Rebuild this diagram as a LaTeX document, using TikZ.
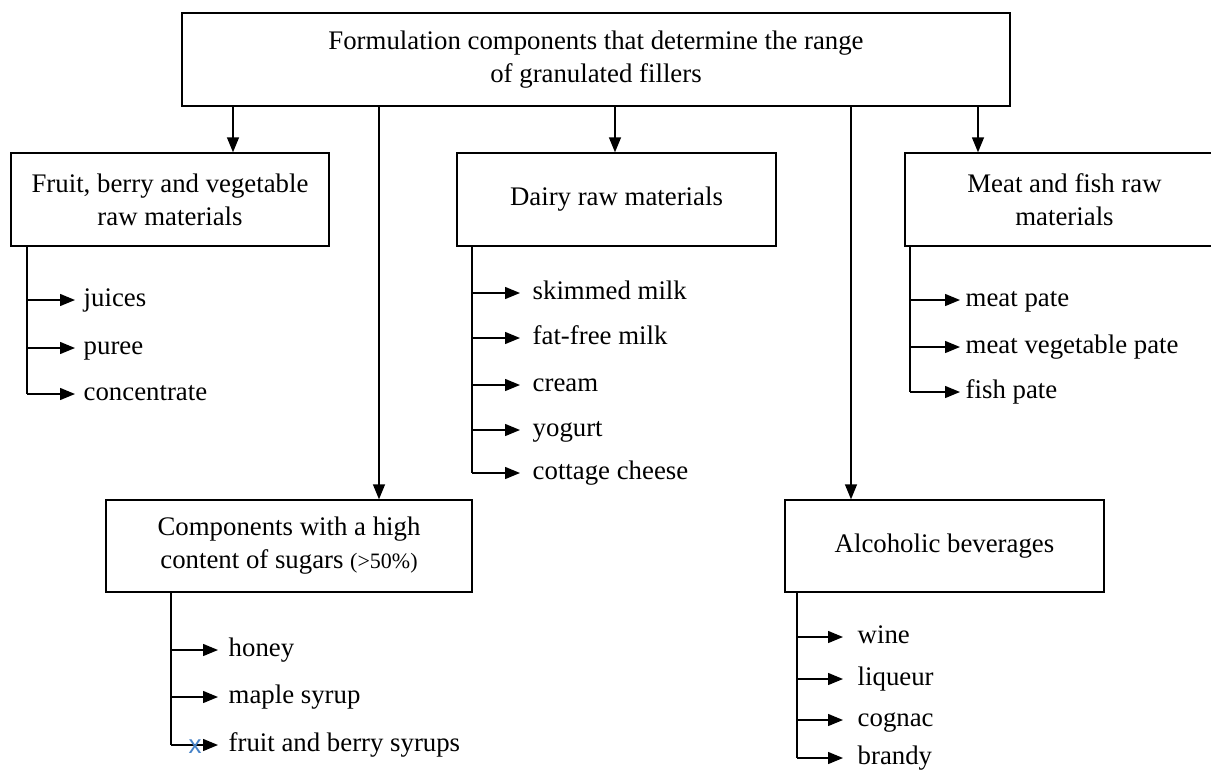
\documentclass[tikz,border=0pt]{standalone}
\usepackage{fontspec}
\setmainfont{Liberation Serif}
\newfontfamily\markfont{Liberation Sans}
\usetikzlibrary{arrows.meta}
\definecolor{xblue}{RGB}{70,130,200}
\begin{document}
\begin{tikzpicture}[x=1pt,y=-1pt, line width=1.4pt,
  box/.style={draw, line width=1.4pt, align=center, inner sep=0pt, font=\fontsize{26.8}{33}\selectfont},
  item/.style={anchor=west, inner sep=0pt, text height=18pt, text depth=6pt, font=\fontsize{26.8}{33}\selectfont},
  arr/.style={-{Triangle[length=15pt,width=12pt]}, line width=1.4pt},
  ]
\path[use as bounding box] (0,0) rectangle (1211,769);
\clip (0,0) rectangle (1211,769);

% boxes
\node[box, minimum width=828pt, minimum height=93pt] (top) at (596,59.5)
  {Formulation components that determine the range\\of granulated fillers};
\node[box, minimum width=318pt, minimum height=93pt] (fruit) at (170,199.5)
  {Fruit, berry and vegetable\\raw materials};
\node[box, minimum width=319pt, minimum height=93pt] (dairy) at (616.5,199.5)
  {Dairy raw materials};
\node[box, minimum width=319pt, minimum height=93pt] (meat) at (1064.5,199.5)
  {Meat and fish raw\\materials};
\node[box, minimum width=366pt, minimum height=92pt] (comp) at (289,546)
  {Components with a high\\content of sugars {\fontsize{22}{33}\selectfont(>50\%)}};
\node[box, minimum width=319pt, minimum height=92pt] (alc) at (944.5,546)
  {Alcoholic beverages};

% main connectors
\coordinate (c1) at (233,0);
\coordinate (c2) at (379,0);
\coordinate (c3) at (615,0);
\coordinate (c4) at (851,0);
\coordinate (c5) at (978,0);
\draw[arr] (top.south -| c1) -- (fruit.north -| c1);
\draw[arr] (top.south -| c2) -- (comp.north -| c2);
\draw[arr] (top.south -| c3) -- (dairy.north -| c3);
\draw[arr] (top.south -| c4) -- (alc.north -| c4);
\draw[arr] (top.south -| c5) -- (meat.north -| c5);

% fruit items
\node[item] (f1) at (83,300) {juices};
\node[item] (f2) at (83,348) {puree};
\node[item] (f3) at (83,394) {concentrate};
\coordinate (vf) at (27,0);
\draw (fruit.south -| vf) -- (f3.west -| vf);
\foreach \n in {f1,f2,f3} \draw[arr] (\n.west -| vf) -- ([xshift=-8pt]\n.west);

% dairy items
\node[item] (d1) at (532,293) {skimmed milk};
\node[item] (d2) at (532,338) {fat-free milk};
\node[item] (d3) at (532,385) {cream};
\node[item] (d4) at (532,430) {yogurt};
\node[item] (d5) at (532,473) {cottage cheese};
\coordinate (vd) at (472,0);
\draw (dairy.south -| vd) -- (d5.west -| vd);
\foreach \n in {d1,d2,d3,d4,d5} \draw[arr] (\n.west -| vd) -- ([xshift=-12pt]\n.west);

% meat items
\node[item] (m1) at (965,300) {meat pate};
\node[item] (m2) at (965,347) {meat vegetable pate};
\node[item] (m3) at (965,392) {fish pate};
\coordinate (vm) at (910,0);
\draw (meat.south -| vm) -- (m3.west -| vm);
\foreach \n in {m1,m2,m3} \draw[arr] (\n.west -| vm) -- ([xshift=-5pt]\n.west);

% components items
\node[item] (s1) at (228,650) {honey};
\node[item] (s2) at (228,697) {maple syrup};
\node[item] (s3) at (228,745) {fruit and berry syrups};
\coordinate (vs) at (171,0);
\draw (comp.south -| vs) -- (s3.west -| vs);
\foreach \n in {s1,s2,s3} \draw[arr] (\n.west -| vs) -- ([xshift=-10pt]\n.west);
\node[text=xblue, font=\markfont\fontsize{26}{26}\selectfont, inner sep=0pt] (xmark) at (195,747) {x};

% alcoholic items
\node[item] (a1) at (857,637) {wine};
\node[item] (a2) at (857,679) {liqueur};
\node[item] (a3) at (857,720) {cognac};
\node[item] (a4) at (857,758) {brandy};
\coordinate (va) at (797,0);
\draw (alc.south -| va) -- (a4.west -| va);
\foreach \n in {a1,a2,a3,a4} \draw[arr] (\n.west -| va) -- ([xshift=-14pt]\n.west);
\end{tikzpicture}
\end{document}
